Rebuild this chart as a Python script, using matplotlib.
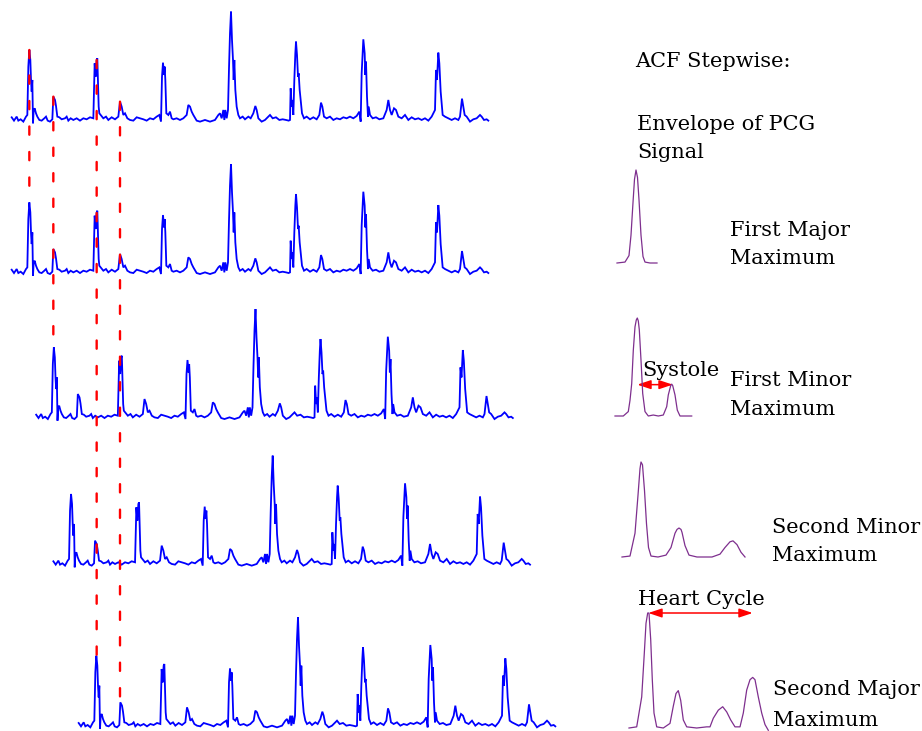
import numpy as np
import matplotlib.pyplot as plt
from matplotlib.patches import ConnectionPatch, FancyArrowPatch

W, H = 922, 731

# PCG envelope: sample position and level (screen units)
pcg_t = [35, 42, 50, 55, 62, 70, 78, 82, 85, 88, 91, 93, 95, 97, 99, 101, 104, 108,
         112, 118, 125, 133, 138, 143, 150, 157, 160, 165, 168, 172, 178, 185, 195,
         200, 205, 212, 220, 230, 240, 250, 260, 270, 280, 284, 287, 290, 292, 294,
         296, 298, 302, 310, 318, 325, 335, 345, 355, 360, 365, 370, 375, 382, 390,
         400, 410, 420, 430, 440, 450, 460, 470, 478, 483, 486, 489, 492, 494, 496,
         499, 505, 510, 515, 520, 530, 540, 550, 560, 565, 570, 575, 580, 590, 600,
         615, 630, 645, 655, 660, 665, 670, 673, 676, 680, 684, 687, 690, 693, 696,
         699, 701, 703, 706, 710, 715, 720, 728, 735, 745, 752, 760, 766, 770, 775,
         785, 795, 805, 810, 818, 828, 838, 848, 858, 866, 870, 872, 875, 877, 880,
         883, 886, 888, 891, 894, 896, 899, 903, 906, 912, 920, 930, 940, 950, 958,
         963, 967, 972, 980, 990, 1000, 1010, 1020, 1030, 1040, 1050, 1060, 1070,
         1078, 1082, 1085, 1090, 1094, 1096, 1098, 1101, 1104, 1106, 1110, 1118,
         1128, 1138, 1150, 1160, 1165, 1170, 1175, 1182, 1188, 1195, 1205, 1215,
         1225, 1235, 1245, 1255, 1265, 1275, 1285, 1295, 1300, 1305, 1308, 1311,
         1315, 1318, 1322, 1328, 1335, 1345, 1355, 1365, 1375, 1380, 1386, 1390,
         1394, 1400, 1410, 1420, 1430, 1440, 1445, 1452, 1460, 1465]
pcg_read = [352, 362, 350, 362, 358, 365, 350, 345, 200, 150, 180, 240, 275, 240, 370,
            330, 325, 340, 350, 360, 362, 355, 350, 362, 365, 358, 290, 300, 318, 350,
            352, 358, 355, 350, 362, 355, 360, 355, 362, 355, 358, 352, 355, 190, 230,
            180, 175, 250, 320, 340, 345, 355, 350, 360, 352, 358, 350, 305, 320, 345,
            340, 355, 360, 362, 352, 355, 358, 362, 355, 358, 350, 345, 365, 230, 188,
            225, 200, 240, 340, 345, 335, 355, 358, 355, 360, 355, 345, 315, 320, 335,
            345, 362, 365, 360, 365, 360, 345, 340, 355, 330, 360, 330, 355, 330, 205,
            100, 35, 120, 180, 240, 180, 270, 320, 345, 355, 350, 358, 350, 355, 340,
            318, 330, 355, 365, 360, 350, 345, 355, 352, 360, 358, 360, 362, 360, 265,
            320, 300, 345, 240, 160, 125, 165, 230, 220, 270, 310, 340, 355, 350, 358,
            352, 358, 345, 308, 320, 350, 355, 350, 360, 355, 358, 352, 355, 350, 355,
            348, 335, 365, 220, 118, 160, 225, 185, 290, 350, 320, 345, 355, 352, 358,
            355, 330, 300, 330, 345, 325, 330, 350, 355, 345, 360, 352, 358, 355, 360,
            355, 362, 350, 340, 330, 210, 240, 158, 190, 275, 345, 350, 355, 360, 355,
            360, 350, 296, 320, 345, 350, 365, 358, 355, 345, 350, 360, 358, 362]
pcg_amp = 358 - np.array(pcg_read, dtype=float)
pcg_t = np.array(pcg_t, dtype=float)

# each copy of the trace: resting line (px from top) and lag shift (px)
row_base = [119.3, 271.7, 416.7, 563.3, 725]
row_shift = [0, 0, 24.5, 41.7, 67]

# ACF of the envelope at each step: lag and normalised value
acf1_lag = [0, 8, 12, 14, 16, 17.5, 19, 20.5, 22, 24, 26, 28, 33, 40]
acf1_val = [0, 0.01, 0.08, 0.3, 0.65, 0.9, 1.0, 0.92, 0.68, 0.3, 0.07, 0.01, 0, 0]

acf2_lag = [0, 8.3, 13.3, 15, 16.7, 18.3, 20, 21.3, 22.3, 23.3, 24.3, 26, 27.7, 30,
            33.3, 38.3, 43.3, 48.3, 51.7, 53.3, 55.7, 56.7, 57.7, 60, 62.3, 65, 76.7]
acf2_val = [0, 0, 0.045, 0.16, 0.33, 0.67, 0.91, 0.98, 1.0, 0.97, 0.88, 0.57, 0.23,
            0.045, 0, 0.01, 0, 0.01, 0.095, 0.215, 0.31, 0.325, 0.31, 0.215, 0.06, 0, 0]

acf3_lag = [0, 8, 13, 16, 18, 19, 20.5, 22.5, 24.5, 26.5, 29, 36, 44, 49, 53, 55, 57,
            59, 60, 63, 67, 75, 90, 98, 103, 108, 111, 115, 119, 123]
acf3_val = [0, 0.01, 0.25, 0.65, 0.93, 1.0, 0.97, 0.7, 0.35, 0.1, 0.01, 0, 0.02, 0.1,
            0.25, 0.29, 0.305, 0.29, 0.26, 0.12, 0.02, 0, 0, 0.03, 0.1, 0.16, 0.17,
            0.13, 0.05, 0]

acf4_lag = [0, 7.7, 12.7, 15.3, 17, 18.7, 20, 21.7, 23.3, 25, 27.7, 34.3, 41, 44.3,
            47, 49.3, 51.7, 54.3, 57.7, 67.7, 77.7, 81, 84.3, 89.3, 93.7, 97.7, 101.7,
            106, 111, 114.3, 117.7, 121, 123.7, 126, 129.3, 132.7, 136, 139.3]
acf4_val = [0, 0.01, 0.27, 0.65, 0.91, 1.0, 1.0, 0.77, 0.42, 0.13, 0.01, 0, 0.04,
            0.19, 0.3, 0.325, 0.24, 0.07, 0.01, 0, 0.01, 0.01, 0.085, 0.155, 0.185,
            0.14, 0.07, 0.01, 0.01, 0.13, 0.33, 0.42, 0.44, 0.42, 0.27, 0.13, 0.03,
            -0.02]

# envelope panels: left edge, resting line, peak height (px)
acf_left = [617, 615, 622, 629]
acf_base = [263, 416, 557, 728]
acf_height = [93, 98, 95, 115]

fig = plt.figure(figsize=(W / 100, H / 100), dpi=100)
fig.patch.set_facecolor('white')


def px_axes(x0, base, w, below, above):
    ax = fig.add_axes([x0 / W, 1 - (base + below) / H, w / W, (below + above) / H])
    ax.set_axis_off()
    return ax


# stacked, lag-shifted traces
rows = []
for base, shift in zip(row_base, row_shift):
    ax = px_axes(10 + shift, base, 480, 20 / 3, 330 / 3)
    ax.plot(pcg_t, pcg_amp, color='#0000ff', lw=1.3, solid_joinstyle='miter')
    ax.set_xlim(30, 1470)
    ax.set_ylim(-20, 330)
    rows.append(ax)

# red dashed guides: peak in the top trace -> row where it lines up again
links = [(88, 1), (160, 2), (290, 4), (360, 4)]
for t0, k in links:
    a0 = pcg_amp[np.argmin(abs(pcg_t - t0))]
    t1 = t0 - 3 * (row_shift[k] - row_shift[0])
    near = abs(pcg_t - t1) <= 4
    a1 = pcg_amp[near].max()
    con = ConnectionPatch(xyA=(t0, a0), coordsA=rows[0].transData,
                          xyB=(t1, a1), coordsB=rows[k].transData,
                          color='#ff0000', lw=1.7, linestyle=(0, (3.5, 7.3)), zorder=5)
    fig.add_artist(con)

# ACF panels
acf_lags = [acf1_lag, acf2_lag, acf3_lag, acf4_lag]
acf_vals = [acf1_val, acf2_val, acf3_val, acf4_val]
acf_axes = []
for lag, val, x0, base, h in zip(acf_lags, acf_vals, acf_left, acf_base, acf_height):
    w = max(lag)
    ax = px_axes(x0, base, w, 0, h)
    ax.plot(lag, val, color='#7e2f8e', lw=0.9, clip_on=False)
    ax.set_xlim(0, w)
    ax.set_ylim(0, 1)
    acf_axes.append(ax)


def span_arrow(ax, x0, x1, y):
    arr = FancyArrowPatch((x0, y), (x1, y),
                          arrowstyle='<|-|>,head_length=0.9,head_width=0.3',
                          mutation_scale=9, color='#ff0000', lw=1.1, clip_on=False,
                          shrinkA=0, shrinkB=0)
    ax.add_patch(arr)


span_arrow(acf_axes[1], 22.3, 57.7, 0.32)
span_arrow(acf_axes[3], 19.3, 123.7, 1.0)

# labels
labels = [
    ("ACF Stepwise:", 635, 67),
    ("Envelope of PCG", 637, 130),
    ("Signal", 637, 158),
    ("First Major", 730, 236),
    ("Maximum", 730, 264),
    ("Systole", 642, 376),
    ("First Minor", 730, 386),
    ("Maximum", 730, 415),
    ("Second Minor", 772, 533),
    ("Maximum", 772, 561),
    ("Heart Cycle", 638, 605),
    ("Second Major", 773, 695),
    ("Maximum", 773, 726),
]
for s, x, y in labels:
    fig.text(x / W, 1 - y / H, s, family='DejaVu Serif', fontsize=15,
             ha='left', va='baseline', color='black')

fig.savefig('out.png', dpi=100, facecolor='white')
